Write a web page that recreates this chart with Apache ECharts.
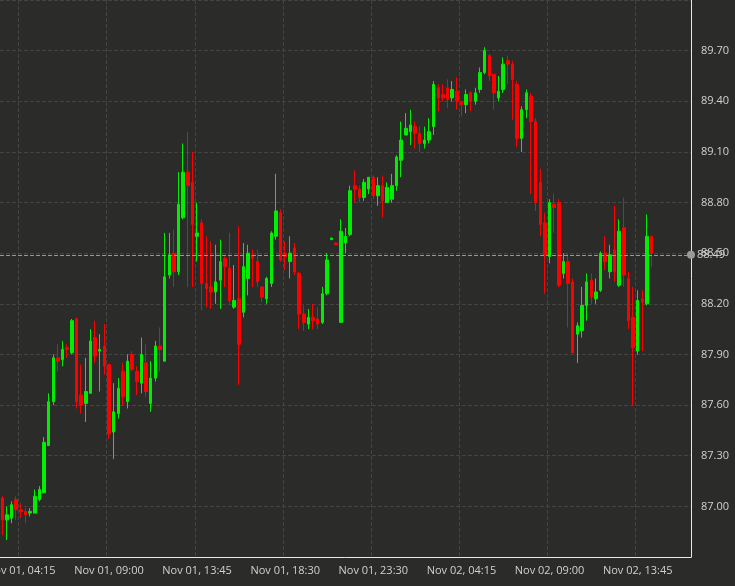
<!DOCTYPE html>
<html>
<head>
<meta charset="utf-8">
<script src="https://cdn.jsdelivr.net/npm/echarts@6/dist/echarts.min.js"></script>
<style>
html,body{margin:0;padding:0;background:#2b2c2a;}
#main{width:735px;height:586px;}
</style>
</head>
<body>
<div id="main"></div>
<script>
// 15 minute candles, [open, close, low, high]
var candles = [
  [87.05,86.92,86.83,87.06],[86.92,86.95,86.80,87.00],[86.93,87.01,86.90,87.03],[87.04,86.98,86.92,87.06],
  [86.98,86.97,86.93,87.02],[86.97,86.95,86.90,86.99],[86.96,86.97,86.94,86.99],[86.96,87.06,86.96,87.10],
  [87.04,87.10,87.03,87.12],[87.08,87.38,87.08,87.41],[87.36,87.62,87.36,87.67],[87.62,87.88,87.60,87.90],
  [87.88,87.86,87.80,87.96],[87.87,87.93,87.83,87.98],[87.94,87.93,87.88,87.96],[87.91,88.10,87.90,88.11],
  [88.11,87.62,87.58,88.12],[87.66,87.60,87.55,87.84],[87.61,87.68,87.50,87.88],
  [87.67,87.98,87.67,88.05],[88.00,87.89,87.85,88.10],[87.92,87.93,87.68,88.02],[87.95,87.83,87.78,88.08],
  [87.84,87.43,87.40,87.84],[87.44,87.56,87.28,87.73],[87.55,87.70,87.52,87.76],[87.80,87.65,87.60,87.85],
  [87.62,87.86,87.58,87.90],[87.90,87.81,87.80,87.92],[87.80,87.74,87.66,87.83],[87.73,87.90,87.67,88.00],
  [87.85,87.68,87.65,87.96],[87.61,87.76,87.56,87.86],[87.76,87.95,87.74,87.98],[87.95,87.93,87.80,88.06],
  [87.86,88.36,87.86,88.62],
  [88.37,88.49,88.35,88.62],[88.50,88.39,88.30,88.64],[88.39,88.79,88.37,88.98],[88.71,88.98,88.70,89.15],
  [88.98,88.90,88.30,89.22],[88.92,88.67,88.30,89.10],[88.60,88.62,88.45,88.80],[88.68,88.32,88.16,88.70],
  [88.32,88.29,88.18,88.60],[88.30,88.27,88.17,88.57],[88.27,88.33,88.20,88.55],[88.34,88.45,88.17,88.58],
  [88.47,88.42,88.30,88.48],[88.41,88.22,88.20,88.62],[88.18,88.22,88.17,88.43],[88.23,87.96,87.72,88.66],
  [88.15,88.42,88.12,88.56],[88.35,88.50,88.25,88.55],[88.49,88.47,88.30,88.52],
  [88.45,88.33,88.30,88.52],[88.30,88.24,88.21,88.30],[88.23,88.35,88.20,88.36],[88.32,88.62,88.30,88.63],
  [88.60,88.75,88.58,88.97],[88.74,88.46,88.45,88.76],[88.50,88.48,88.40,88.57],[88.45,88.50,88.35,88.60],
  [88.53,88.39,88.37,88.56],[88.38,88.14,88.05,88.39],[88.14,88.09,88.04,88.19],[88.08,88.12,88.05,88.17],
  [88.12,88.10,88.05,88.20],[88.11,88.08,88.05,88.18],[88.09,88.26,88.08,88.30],[88.26,88.46,88.25,88.50],
  [88.58,88.59,88.58,88.59],[88.56,88.55,88.55,88.56],[88.09,88.63,88.09,88.70],[88.56,88.60,88.50,88.65],
  [88.61,88.87,88.60,88.90],[88.90,88.88,88.80,88.99],[88.88,88.83,88.80,88.90],[88.83,88.92,88.81,88.94],
  [88.88,88.95,88.85,88.95],[88.95,88.84,88.82,88.96],[88.84,88.90,88.78,88.95],[88.90,88.81,88.71,88.96],
  [88.80,88.89,88.80,88.92],[88.82,88.90,88.80,88.97],[88.90,89.07,88.87,89.08],[89.05,89.17,88.95,89.28],
  [89.20,89.24,89.20,89.33],[89.22,89.26,89.14,89.35],[89.25,89.21,89.12,89.28],[89.21,89.15,89.10,89.25],
  [89.15,89.17,89.12,89.25],[89.17,89.22,89.15,89.30],[89.25,89.50,89.20,89.52],[89.48,89.42,89.34,89.50],
  [89.44,89.42,89.40,89.50],[89.48,89.41,89.36,89.53],[89.42,89.47,89.40,89.52],[89.46,89.40,89.35,89.54],
  [89.40,89.38,89.31,89.40],[89.38,89.44,89.33,89.47],[89.45,89.40,89.34,89.46],[89.40,89.45,89.38,89.48],
  [89.47,89.57,89.45,89.60],[89.57,89.70,89.56,89.72],[89.67,89.55,89.52,89.68],[89.56,89.45,89.35,89.56],
  [89.42,89.46,89.40,89.55],[89.47,89.62,89.45,89.66],[89.64,89.62,89.50,89.67],[89.62,89.53,89.29,89.64],
  [89.50,89.18,89.13,89.52],[89.18,89.35,89.10,89.37],[89.35,89.45,89.30,89.47],[89.43,89.28,88.85,89.45],
  [89.28,88.80,88.75,89.30],[88.92,88.67,88.60,89.00],
  [88.68,88.49,88.26,88.74],[88.48,88.80,88.44,88.82],[88.79,88.77,88.62,88.85],[88.80,88.31,88.30,88.82],
  [88.38,88.45,88.35,88.50],[88.45,88.32,88.06,88.50],[88.33,87.91,87.91,88.35],[88.02,88.07,87.85,88.09],
  [88.04,88.19,88.00,88.30],[88.19,88.33,88.10,88.38],[88.34,88.24,88.20,88.38],[88.23,88.27,88.20,88.35],
  [88.28,88.50,88.27,88.51],[88.50,88.45,88.40,88.60],[88.39,88.49,88.35,88.55],[88.52,88.39,88.33,88.78],
  [88.31,88.63,88.30,88.70],[88.65,88.37,88.30,88.83],[88.35,88.10,88.05,88.39],[88.12,87.94,87.60,88.30],
  [87.92,88.22,87.90,88.28],[88.23,88.21,87.92,88.28],[88.20,88.60,88.19,88.73],[88.60,88.50,88.42,88.60]
];
var lastPrice = 88.49;
var slotCount = 149;

// time labels: 15 min slots from Nov 01 03:15, the 21:00 slot is missing
var categories = [];
var t = 3 * 60 + 15;
for (var i = 0; i < slotCount; i++) {
  if (t === 21 * 60) t += 15;
  var day = t >= 1440 ? '02' : '01';
  var m = t % 1440;
  var hh = ('0' + Math.floor(m / 60)).slice(-2), mm = ('0' + (m % 60)).slice(-2);
  categories.push('Nov ' + day + ', ' + hh + ':' + mm);
  t += 15;
}

var seriesData = candles.slice();
while (seriesData.length < slotCount) seriesData.push('-');

function showTick(i) { return i >= 4 && (i - 4) % 19 === 0; }

var myChart = echarts.init(document.getElementById('main'));
myChart.setOption({
  backgroundColor: '#2b2c2a',
  animation: false,
  grid: { left: 0, right: 44, top: 0, bottom: 29, containLabel: false, outerBoundsMode: 'none' },
  xAxis: {
    type: 'category',
    data: categories,
    boundaryGap: true,
    axisLine: { lineStyle: { color: '#e8e8e8' } },
    axisTick: { interval: function(i) { return showTick(i); }, lineStyle: { color: '#e8e8e8' }, alignWithLabel: true },
    axisLabel: { interval: function(i) { return showTick(i); }, hideOverlap: false, color: '#d0d0d0', fontSize: 11, fontFamily: 'Open Sans' },
    splitLine: { show: true, interval: function(i) { return showTick(i); }, lineStyle: { color: '#444', type: 'dashed' } }
  },
  yAxis: {
    type: 'value',
    position: 'right',
    min: 86.7, max: 90.0, interval: 0.3,
    axisLine: { show: true, lineStyle: { color: '#e8e8e8' } },
    axisTick: { show: false },
    axisLabel: {
      color: '#d0d0d0', fontSize: 11, fontFamily: 'Open Sans', margin: 10,
      showMinLabel: false, showMaxLabel: false,
      formatter: function(v) { return v.toFixed(2); }
    },
    splitLine: { lineStyle: { color: '#444', type: 'dashed' } }
  },
  series: [{
    type: 'candlestick',
    data: seriesData,
    barWidth: 3,
    itemStyle: { color: '#00ee00', color0: '#ff0000', borderColor: '#00ee00', borderColor0: '#ff0000', borderWidth: 1 },
    markLine: {
      silent: true,
      symbol: ['none', 'circle'],
      symbolSize: 8,
      lineStyle: { color: '#9a9a9a', type: 'dashed', width: 1 },
      itemStyle: { color: '#9a9a9a' },
      label: { show: true, position: 'end', color: '#d0d0d0', fontSize: 11, fontFamily: 'Open Sans', distance: 6, formatter: lastPrice.toFixed(2) },
      data: [{ yAxis: lastPrice }]
    }
  }]
});
</script>
</body>
</html>
